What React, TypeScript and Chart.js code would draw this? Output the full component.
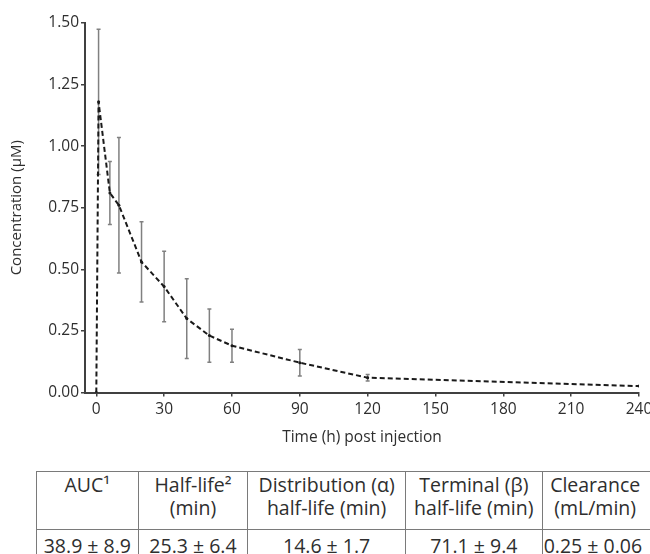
import React, { useEffect, useRef } from "react";
import { Chart, registerables } from "chart.js";
Chart.register(...registerables);

// Time points (x) and mean concentration (µM) with SD
const times = [0, 1, 6, 10, 20, 30, 40, 50, 60, 90, 120, 240];
const concentration = [0, 1.18, 0.81, 0.76, 0.53, 0.43, 0.3, 0.231, 0.19, 0.121, 0.06, 0.026];
const sd = [0, 0.295, 0.128, 0.275, 0.163, 0.143, 0.162, 0.108, 0.067, 0.054, 0.013, 0];

const xTicks = [0, 30, 60, 90, 120, 150, 180, 210, 240];
const yTicks = [0, 0.25, 0.5, 0.75, 1.0, 1.25, 1.5];

const xTitle = "Time (h) post injection";
const yTitle = "Concentration (µM)";

const tableHeaders = [
  ["AUC¹"],
  ["Half-life²", "(min)"],
  ["Distribution (α)", "half-life (min)"],
  ["Terminal (β)", "half-life (min)"],
  ["Clearance", "(mL/min)"],
];
const tableValues = ["38.9 ± 8.9", "25.3 ± 6.4", "14.6 ± 1.7", "71.1 ± 9.4", "0.25 ± 0.06"];
const columnWidths = [101.7, 109.6, 157.7, 136.7, 116];

const FONT = "'Open Sans', sans-serif";
const AXIS = "#404040";
const TEXT = "#2e2e2e";

const errorBarPlugin = {
  id: "errorBars",
  beforeDatasetsDraw(chart: any) {
    const { ctx, scales } = chart;
    const x = scales.x;
    const y = scales.y;
    ctx.save();
    ctx.strokeStyle = "#808080";
    ctx.lineWidth = 1.5;
    times.forEach((t, i) => {
      if (!sd[i]) return;
      const px = x.getPixelForValue(t);
      const top = y.getPixelForValue(concentration[i] + sd[i]);
      const bot = y.getPixelForValue(concentration[i] - sd[i]);
      ctx.beginPath();
      ctx.moveTo(px, top);
      ctx.lineTo(px, bot);
      ctx.moveTo(px - 2, top);
      ctx.lineTo(px + 2, top);
      ctx.moveTo(px - 2, bot);
      ctx.lineTo(px + 2, bot);
      ctx.stroke();
    });
    ctx.restore();
  },
};

function PKChart() {
  const ref = useRef<HTMLCanvasElement | null>(null);
  useEffect(() => {
    if (!ref.current) return;
    const chart = new Chart(ref.current, {
      type: "line",
      data: {
        datasets: [
          {
            data: times.map((t, i) => ({ x: t, y: concentration[i] })),
            borderColor: "#1a1a1a",
            borderWidth: 2,
            borderDash: [5, 3],
            pointRadius: 1.5,
            pointBackgroundColor: "#1a1a1a",
            pointBorderWidth: 0,
            tension: 0,
            fill: false,
          },
        ],
      },
      options: {
        responsive: false,
        animation: false,
        layout: { padding: { left: 0, right: 26, top: 23, bottom: 0 } },
        plugins: { legend: { display: false }, tooltip: { enabled: false } },
        scales: {
          x: {
            type: "linear",
            min: -5,
            max: 240,
            afterBuildTicks: (axis: any) => {
              axis.ticks = xTicks.map((v) => ({ value: v }));
            },
            afterFit: (s: any) => {
              s.height = 62.5;
            },
            border: { display: true, color: AXIS, width: 2 },
            grid: { drawOnChartArea: false, drawTicks: true, tickLength: 4, color: AXIS, lineWidth: 1.5 },
            ticks: {
              color: TEXT,
              font: { family: FONT, size: 15.5 },
              padding: 4,
              maxRotation: 0,
              autoSkip: false,
              callback: (v: any) => String(v),
            },
            title: {
              display: true,
              text: xTitle,
              color: TEXT,
              font: { family: FONT, size: 15.5 },
              padding: { top: 0, bottom: 8 },
            },
          },
          y: {
            type: "linear",
            min: 0,
            max: 1.5,
            afterBuildTicks: (axis: any) => {
              axis.ticks = yTicks.map((v) => ({ value: v }));
            },
            afterFit: (s: any) => {
              s.width = 85;
            },
            border: { display: true, color: AXIS, width: 2 },
            grid: { drawOnChartArea: false, drawTicks: true, tickLength: 4, color: AXIS, lineWidth: 1.5 },
            ticks: {
              color: TEXT,
              font: { family: FONT, size: 15.5 },
              padding: 2,
              autoSkip: false,
              callback: (v: any) => Number(v).toFixed(2),
            },
            title: {
              display: true,
              text: yTitle,
              color: TEXT,
              font: { family: FONT, size: 15 },
              padding: { top: 8, bottom: 0 },
            },
          },
        },
      },
      plugins: [errorBarPlugin],
    } as any);
    return () => chart.destroy();
  }, []);
  return <canvas ref={ref} width={665} height={455} style={{ display: "block" }} />;
}

export default function App() {
  const border = "1.5px solid #7a7a7a";
  const cell: React.CSSProperties = {
    border,
    padding: 0,
    textAlign: "center",
    whiteSpace: "nowrap",
    overflow: "visible",
  };
  const last = tableHeaders.length - 1;
  return (
    <div
      style={{
        position: "absolute",
        left: 0,
        top: 0,
        width: 650,
        height: 554,
        overflow: "hidden",
        background: "#ffffff",
      }}
    >
      <PKChart />
      <table
        style={{
          position: "absolute",
          left: 36,
          top: 471,
          borderCollapse: "collapse",
          tableLayout: "fixed",
          width: columnWidths.reduce((a, b) => a + b, 0),
          fontFamily: FONT,
          fontSize: 19.5,
          lineHeight: "23px",
          color: TEXT,
        }}
      >
        <colgroup>
          {columnWidths.map((w, i) => (
            <col key={i} style={{ width: w }} />
          ))}
        </colgroup>
        <tbody>
          <tr style={{ height: 58 }}>
            {tableHeaders.map((lines, i) => (
              <td
                key={i}
                style={{ ...cell, verticalAlign: "top", paddingTop: 1, paddingRight: i === last ? 10 : 0 }}
              >
                {lines.map((l, j) => (
                  <div key={j}>{l}</div>
                ))}
              </td>
            ))}
          </tr>
          <tr style={{ height: 40 }}>
            {tableValues.map((v, i) => (
              <td
                key={i}
                style={{
                  ...cell,
                  verticalAlign: "top",
                  paddingTop: 4,
                  textAlign: i === last ? "left" : "center",
                  paddingLeft: i === last ? 1 : 0,
                }}
              >
                {v}
              </td>
            ))}
          </tr>
        </tbody>
      </table>
    </div>
  );
}
